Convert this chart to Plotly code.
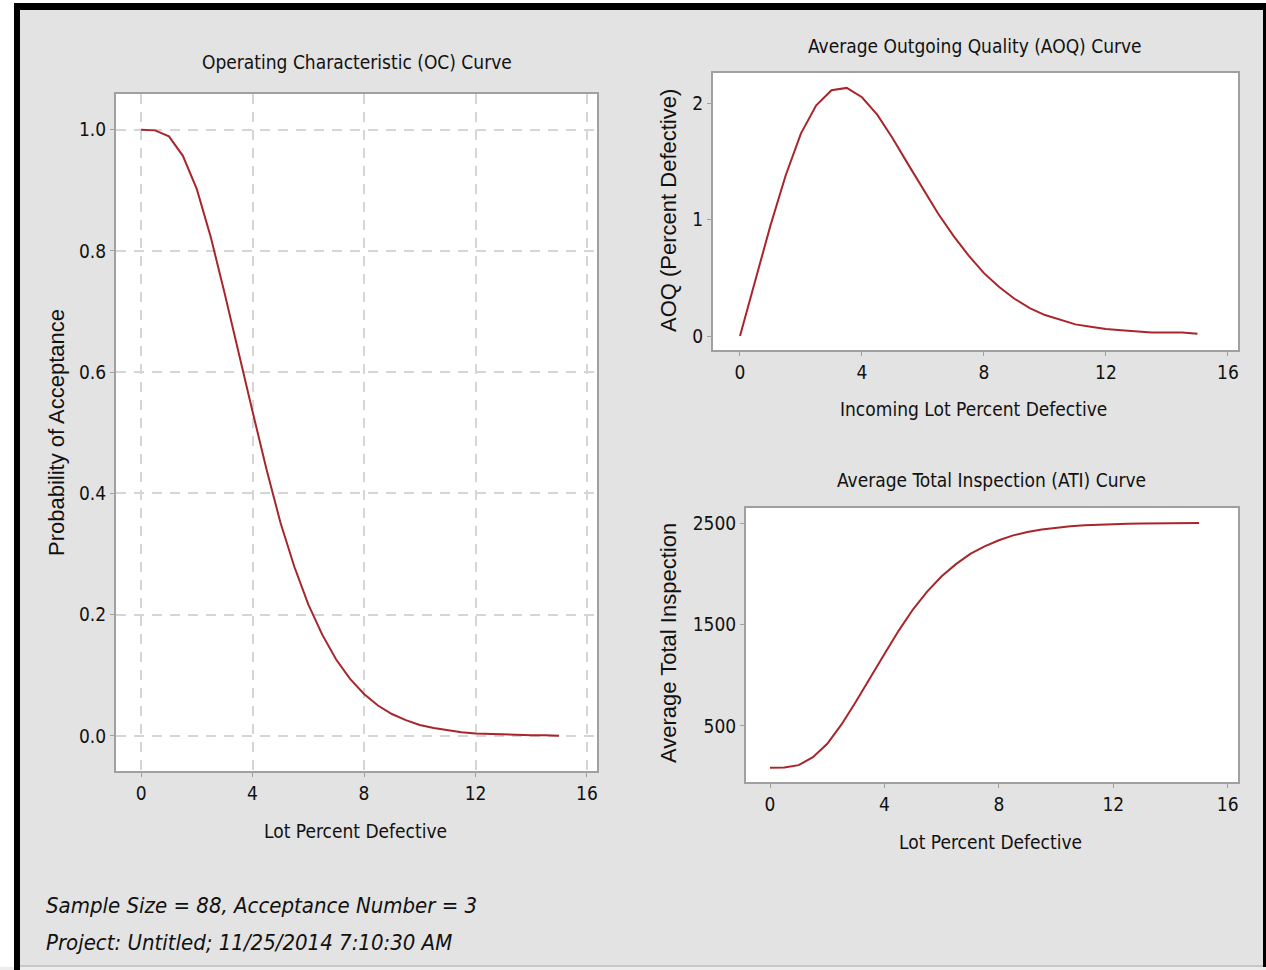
import plotly.graph_objects as go

# ---- data ----
lot_pct = [0, 0.5, 1, 1.5, 2, 2.5, 3, 3.5, 4, 4.5, 5, 5.5, 6, 6.5, 7, 7.5,
           8, 8.5, 9, 9.5, 10, 10.5, 11, 11.5, 12, 12.5, 13, 13.5, 14, 14.5, 15]
prob_accept = [1.000, 0.999, 0.989, 0.957, 0.902, 0.823, 0.730, 0.630, 0.535,
               0.440, 0.352, 0.279, 0.217, 0.167, 0.126, 0.094, 0.069, 0.050,
               0.036, 0.026, 0.018, 0.013, 0.009, 0.006, 0.004, 0.003, 0.002,
               0.001, 0.001, 0.001, 0.000]
aoq = [0.00, 0.48, 0.95, 1.38, 1.74, 1.98, 2.11, 2.13, 2.05, 1.90, 1.70, 1.48,
       1.26, 1.05, 0.86, 0.69, 0.54, 0.42, 0.32, 0.24, 0.18, 0.14, 0.10, 0.08,
       0.06, 0.05, 0.04, 0.03, 0.03, 0.03, 0.02]
ati = [88, 90, 114, 192, 324, 515, 739, 980, 1210, 1440, 1650, 1826, 1975,
       2095, 2195, 2270, 2330, 2378, 2412, 2437, 2455, 2468, 2478, 2485, 2490,
       2493, 2495, 2497, 2498, 2499, 2500]

x_ticks = [0, 4, 8, 12, 16]
oc_y_ticks = [0.0, 0.2, 0.4, 0.6, 0.8, 1.0]
aoq_y_ticks = [0, 1, 2]
ati_y_ticks = [500, 1500, 2500]

W, H = 1266, 970
BG = "#E3E3E3"
LINE = "#A8262B"
FRAME = "#A0A0A0"
TXT = "#111111"
NARROW = "DejaVu Sans Condensed, Liberation Sans Narrow, sans-serif"
WIDE = "Liberation Sans, Arial, sans-serif"


def px(x):
    return x / W


def py(y):
    return 1 - y / H


fig = go.Figure()
fig.add_trace(go.Scatter(x=lot_pct, y=prob_accept, mode="lines",
                         line=dict(color=LINE, width=2), xaxis="x", yaxis="y",
                         showlegend=False, hoverinfo="x+y"))
fig.add_trace(go.Scatter(x=lot_pct, y=aoq, mode="lines",
                         line=dict(color=LINE, width=2), xaxis="x2", yaxis="y2",
                         showlegend=False, hoverinfo="x+y"))
fig.add_trace(go.Scatter(x=lot_pct, y=ati, mode="lines",
                         line=dict(color=LINE, width=2), xaxis="x3", yaxis="y3",
                         showlegend=False, hoverinfo="x+y"))

tickfont = dict(family=NARROW, size=19, color=TXT)


def xax(domain, anchor, rng, grid=False):
    return dict(domain=domain, anchor=anchor, range=rng, tickvals=x_ticks,
                ticktext=[str(t) for t in x_ticks], ticks="outside", ticklen=4,
                tickcolor=FRAME, tickwidth=1, showline=True, mirror=True,
                linecolor=FRAME, linewidth=2, zeroline=False, showgrid=grid,
                gridcolor="#D6D6D6", gridwidth=1.5, griddash="10px,8px",
                tickfont=tickfont, ticklabelstandoff=0, fixedrange=True)


def yax(domain, anchor, rng, vals, txt, grid=False):
    return dict(domain=domain, anchor=anchor, range=rng, tickvals=vals,
                ticktext=txt, ticks="outside", ticklen=4, tickcolor=FRAME,
                tickwidth=1, showline=True, mirror=True, linecolor=FRAME,
                linewidth=2, zeroline=False, showgrid=grid,
                gridcolor="#D6D6D6", gridwidth=1.5, griddash="10px,8px",
                tickfont=tickfont, ticklabelstandoff=0, fixedrange=True)


fig.update_layout(
    width=W, height=H, autosize=False,
    margin=dict(l=0, r=0, t=0, b=0),
    paper_bgcolor=BG, plot_bgcolor="white",
    xaxis=xax([px(116), px(597)], "y", [-0.9, 16.36], grid=True),
    yaxis=yax([py(771), py(94)], "x", [-0.058, 1.059], oc_y_ticks,
              [f"{v:.1f}" for v in oc_y_ticks], grid=True),
    xaxis2=xax([px(713), px(1238)], "y2", [-0.885, 16.33]),
    yaxis2=yax([py(350), py(73)], "x2", [-0.12, 2.258], aoq_y_ticks,
               [str(v) for v in aoq_y_ticks]),
    xaxis3=xax([px(746), px(1238)], "y3", [-0.84, 16.36]),
    yaxis3=yax([py(782), py(508)], "x3", [-52, 2648], ati_y_ticks,
               [str(v) for v in ati_y_ticks]),
)

# outer white strips and black frame
fig.add_shape(type="rect", xref="paper", yref="paper", layer="below",
              x0=0, x1=px(14), y0=0, y1=1, fillcolor="white", line=dict(width=0))
fig.add_shape(type="rect", xref="paper", yref="paper", layer="below",
              x0=0, x1=1, y0=py(3), y1=1, fillcolor="white", line=dict(width=0))
fig.add_shape(type="rect", xref="paper", yref="paper", layer="below",
              x0=0, x1=1, y0=0, y1=py(967), fillcolor="#EDEDED", line=dict(width=0))
fig.add_shape(type="line", xref="paper", yref="paper", layer="below",
              x0=px(14), x1=px(1266), y0=py(6.5), y1=py(6.5),
              line=dict(color="black", width=7))
fig.add_shape(type="line", xref="paper", yref="paper", layer="below",
              x0=px(17), x1=px(17), y0=0, y1=py(3),
              line=dict(color="black", width=6))
fig.add_shape(type="line", xref="paper", yref="paper", layer="below",
              x0=px(1264.5), x1=px(1264.5), y0=py(967), y1=py(3),
              line=dict(color="black", width=3))
fig.add_shape(type="line", xref="paper", yref="paper", layer="below",
              x0=px(20), x1=px(1263), y0=py(966), y1=py(966),
              line=dict(color="#C8C8C8", width=2))


def ann(text, x, y, size=19, family=NARROW, angle=0, xanchor="center"):
    fig.add_annotation(text=text, x=px(x), y=py(y), xref="paper", yref="paper",
                       showarrow=False, xanchor=xanchor, yanchor="middle",
                       textangle=angle,
                       font=dict(family=family, size=size, color=TXT))


ann("Operating Characteristic (OC) Curve", 357, 62)
ann("Average Outgoing Quality (AOQ) Curve", 975, 46)
ann("Average Total Inspection (ATI) Curve", 991, 480)
ann("Lot Percent Defective", 355, 831)
ann("Incoming Lot Percent Defective", 973, 409)
ann("Lot Percent Defective", 990, 842)
ann("Probability of Acceptance", 57, 433, size=22, family=WIDE, angle=-90)
ann("AOQ (Percent Defective)", 668, 211, size=22, family=WIDE, angle=-90)
ann("Average Total Inspection", 668, 643, size=22, family=WIDE, angle=-90)
ann("<i>Sample Size = 88, Acceptance Number = 3</i>", 44, 905, size=22,
    xanchor="left")
ann("<i>Project: Untitled; 11/25/2014 7:10:30 AM</i>", 44, 942, size=22,
    xanchor="left")

fig.write_html("out.html", config={"displayModeBar": False},
               post_script="document.body.style.margin='0px';")
